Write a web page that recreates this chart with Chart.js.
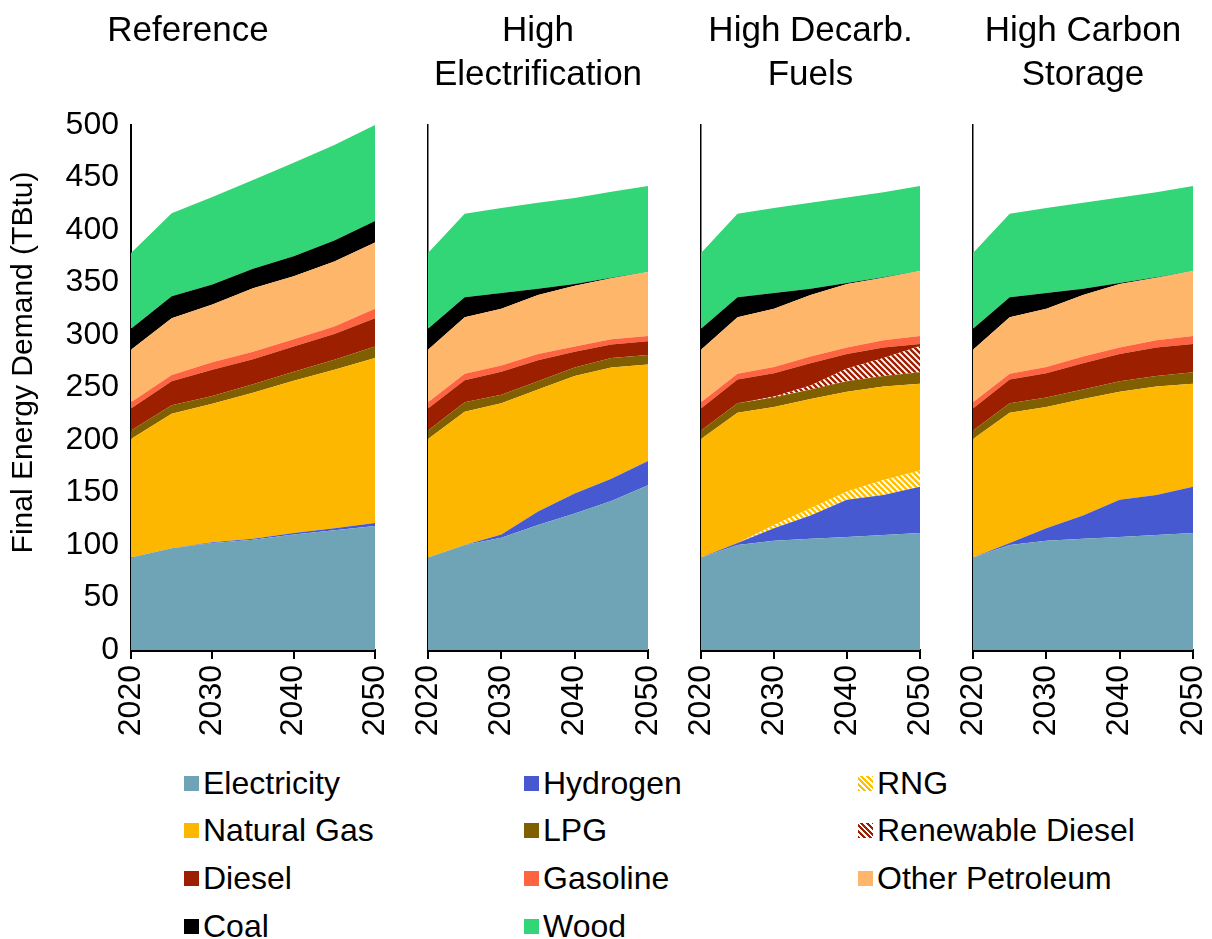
<!DOCTYPE html>
<html><head><meta charset="utf-8">
<script src="https://cdn.jsdelivr.net/npm/chart.js@4.4.1/dist/chart.umd.min.js"></script>
<style>
html,body{margin:0;padding:0;background:#fff;width:1212px;height:939px;overflow:hidden;font-family:"Liberation Sans",Arial,sans-serif;}
canvas{position:absolute;top:0;}
.li{position:absolute;display:flex;align-items:center;height:40px;font-size:32px;color:#000;white-space:nowrap;}
.sw{width:15px;height:15px;margin-right:4px;flex:none;}
</style></head><body>
<canvas id="c0" width="394" height="760" style="left:1px"></canvas>
<canvas id="c1" width="260" height="760" style="left:408px"></canvas>
<canvas id="c2" width="259" height="760" style="left:681px"></canvas>
<canvas id="c3" width="260" height="760" style="left:953px"></canvas>
<div id="legend"></div>
<script>
// ---------- data ----------
const years = [2020, 2025, 2030, 2035, 2040, 2045, 2050];
const xTickYears = [2020, 2030, 2040, 2050];
const seriesNames = ['Electricity','Hydrogen','RNG','Natural Gas','LPG','Renewable Diesel','Diesel','Gasoline','Other Petroleum','Coal','Wood'];
const seriesColors = ['#6FA3B6','#4659D0','#FFC000','#FDB700','#7F5F00','#9C1F00','#9C1F00','#FF6442','#FDB66A','#000000','#33D677'];
const seriesHatched = [false,false,true,false,false,true,false,false,false,false,false];
const panelTitles = [['Reference',''],['High','Electrification'],['High Decarb.','Fuels'],['High Carbon','Storage']];
const yAxisTitle = 'Final Energy Demand (TBtu)';

// Reference
const refElectricity = [88, 97, 102, 105, 110, 114, 118];
const refHydrogen    = [0, 0, 0.5, 1, 1.5, 2, 3];
const refRNG         = [0, 0, 0, 0, 0, 0, 0];
const refNaturalGas  = [113, 128, 132, 139, 145, 151, 157];
const refLPG         = [8, 8, 7.5, 8, 8.5, 9.5, 11];
const refRenDiesel   = [0, 0, 0, 0, 0, 0, 0];
const refDiesel      = [21, 23, 25, 24, 24, 24.5, 27];
const refGasoline    = [6, 6, 7, 7, 7, 7, 9];
const refOtherPet    = [50, 54, 55, 60.5, 60, 62, 63];
const refCoal        = [20, 21, 19, 18.5, 19, 20, 20.5];
const refWood        = [72, 79, 83.5, 84.5, 89, 91, 91.5];

// High Electrification
const heElectricity = [88, 100, 107, 119, 130, 142, 157];
const heHydrogen    = [0, 0, 3, 13, 19, 21, 23];
const heRNG         = [0, 0, 0, 0, 0, 0, 0];
const heNaturalGas  = [113, 127, 125, 116, 112, 106, 92];
const heLPG         = [8, 9, 8, 8, 8, 9, 9];
const heRenDiesel   = [0, 0, 0, 0, 0, 0, 0];
const heDiesel      = [21, 21, 22, 20, 15, 13, 13];
const heGasoline    = [6, 6, 6, 6, 5, 5, 5];
const heOtherPet    = [50, 54, 54, 56, 58, 58, 61];
const heCoal        = [20, 19, 15, 6, 1.5, 0.5, 0];
const heWood        = [72, 79.5, 81, 82, 82, 82, 82];

// High Decarb. Fuels
const hdElectricity = [88, 100, 104, 106, 107.5, 109.5, 111.5];
const hdHydrogen    = [0, 2, 12, 22, 35.5, 38, 44];
const hdRNG         = [0, 0, 3, 7, 8, 14.5, 15.5];
const hdNaturalGas  = [113, 124, 112.5, 104, 95, 89, 82.5];
const hdLPG         = [8, 9, 9, 9, 10, 10, 11];
const hdRenDiesel   = [0, 0, 1, 4, 12, 17, 25];
const hdDiesel      = [21, 22.5, 22, 21, 14, 10, 2];
const hdGasoline    = [6, 5.5, 6, 6.5, 6, 7, 7.5];
const hdOtherPet    = [50, 54, 55.5, 58.5, 60.5, 59.5, 62];
const hdCoal        = [20, 19, 15, 6, 1, 0.5, 0];
const hdWood        = [72, 79.5, 81, 82, 81.5, 81, 81];

// High Carbon Storage
const hcElectricity = [88, 100, 104, 106, 107.5, 109.5, 111.5];
const hcHydrogen    = [0, 2, 12, 22, 35.5, 38, 44];
const hcRNG         = [0, 0, 0, 0, 0, 0, 0];
const hcNaturalGas  = [113, 124, 115.5, 111, 103, 103.5, 98];
const hcLPG         = [8, 9, 9, 9, 10, 10, 11];
const hcRenDiesel   = [0, 0, 0, 0, 0, 0, 0];
const hcDiesel      = [21, 22.5, 23, 25, 26, 27, 27];
const hcGasoline    = [6, 5.5, 6, 6.5, 6, 7, 7.5];
const hcOtherPet    = [50, 54, 55.5, 58.5, 60.5, 59.5, 62];
const hcCoal        = [20, 19, 15, 6, 1, 0.5, 0];
const hcWood        = [72, 79.5, 81, 82, 81.5, 81, 81];

const panelSeries = [
  [refElectricity, refHydrogen, refRNG, refNaturalGas, refLPG, refRenDiesel, refDiesel, refGasoline, refOtherPet, refCoal, refWood],
  [heElectricity, heHydrogen, heRNG, heNaturalGas, heLPG, heRenDiesel, heDiesel, heGasoline, heOtherPet, heCoal, heWood],
  [hdElectricity, hdHydrogen, hdRNG, hdNaturalGas, hdLPG, hdRenDiesel, hdDiesel, hdGasoline, hdOtherPet, hdCoal, hdWood],
  [hcElectricity, hcHydrogen, hcRNG, hcNaturalGas, hcLPG, hcRenDiesel, hcDiesel, hcGasoline, hcOtherPet, hcCoal, hcWood]
];

// ---------- styling / layout ----------
const FONT = '"Liberation Sans", Arial, sans-serif';
Chart.defaults.font.family = FONT;
Chart.defaults.color = '#000';

function makeHatch(color){
  const s = 6;
  const c = document.createElement('canvas'); c.width = s; c.height = s;
  const x = c.getContext('2d');
  x.fillStyle = '#fff'; x.fillRect(0,0,s,s);
  x.strokeStyle = color; x.lineWidth = 2.4;
  x.beginPath();
  for (const k of [-s, 0, s]) { x.moveTo(k-1, -1); x.lineTo(k+s+1, s+1); }
  x.stroke();
  return x.createPattern(c, 'repeat');
}

const panelLayout = [
  {id:'c0', padL:0,  padR:20, yWidth:130, showY:true},
  {id:'c1', padL:20, padR:20, yWidth:0,   showY:false},
  {id:'c2', padL:20, padR:20, yWidth:0,   showY:false},
  {id:'c3', padL:20, padR:20, yWidth:0,   showY:false}
];

panelLayout.forEach((pl, p) => {
  const datasets = seriesNames.map((name, i) => ({
    label: name,
    data: years.map((yr, k) => ({x: yr, y: panelSeries[p][i][k]})),
    backgroundColor: seriesHatched[i] ? makeHatch(seriesColors[i]) : seriesColors[i],
    borderWidth: 0,
    pointRadius: 0,
    tension: 0,
    fill: i === 0 ? 'origin' : '-1'
  }));
  new Chart(document.getElementById(pl.id), {
    type: 'line',
    data: { datasets },
    options: {
      responsive: false,
      animation: false,
      layout: { padding: {left: pl.padL, right: pl.padR, top: 0, bottom: 0} },
      plugins: {
        legend: {display: false},
        tooltip: {enabled: false},
        title: {
          display: true,
          text: panelTitles[p],
          color: '#000',
          font: {size: 35, weight: 'normal', family: FONT, lineHeight: 1.257},
          padding: {top: 9, bottom: 28}
        }
      },
      scales: {
        x: {
          type: 'linear',
          min: xTickYears[0], max: xTickYears[xTickYears.length-1],
          afterBuildTicks: s => { s.ticks = xTickYears.map(v => ({value: v})); },
          ticks: {
            autoSkip: false, minRotation: 90, maxRotation: 90, padding: 6,
            font: {size: 32, family: FONT}, color: '#000',
            callback: v => String(v)
          },
          grid: {display: true, drawOnChartArea: false, drawTicks: true, tickLength: 9, color: '#000', lineWidth: 2},
          border: {display: true, color: '#000', width: 3},
          afterFit: s => { s.height = 110; s.paddingLeft = 0; s.paddingRight = 0; }
        },
        y: {
          stacked: true,
          min: 0, max: 500,
          ticks: {display: pl.showY, stepSize: 50, padding: 12, font: {size: 32, family: FONT}, color: '#000'},
          grid: {display: false, drawTicks: false},
          border: {display: true, color: '#000', width: pl.showY ? 2 : 1.5},
          title: {display: pl.showY, text: '      ' + yAxisTitle, color: '#000', font: {size: 30, family: FONT}, padding: {top: 5, bottom: 0}},
          afterFit: s => { s.width = pl.yWidth; }
        }
      }
    }
  });
});

// ---------- legend ----------
const legendCols = [184, 524, 858];
const legendRows = [783, 830, 878, 926];
const lg = document.getElementById('legend');
seriesNames.forEach((name, i) => {
  const r = Math.floor(i / 3), c = i % 3;
  const d = document.createElement('div');
  d.className = 'li';
  d.style.left = legendCols[c] + 'px';
  d.style.top = (legendRows[r] - 20) + 'px';
  const sw = document.createElement('span');
  sw.className = 'sw';
  sw.style.background = seriesHatched[i]
    ? `repeating-linear-gradient(45deg, ${seriesColors[i]} 0 2px, #fff 2px 4px)`
    : seriesColors[i];
  const t = document.createElement('span');
  t.textContent = name;
  d.appendChild(sw); d.appendChild(t);
  lg.appendChild(d);
});
</script>
</body></html>
